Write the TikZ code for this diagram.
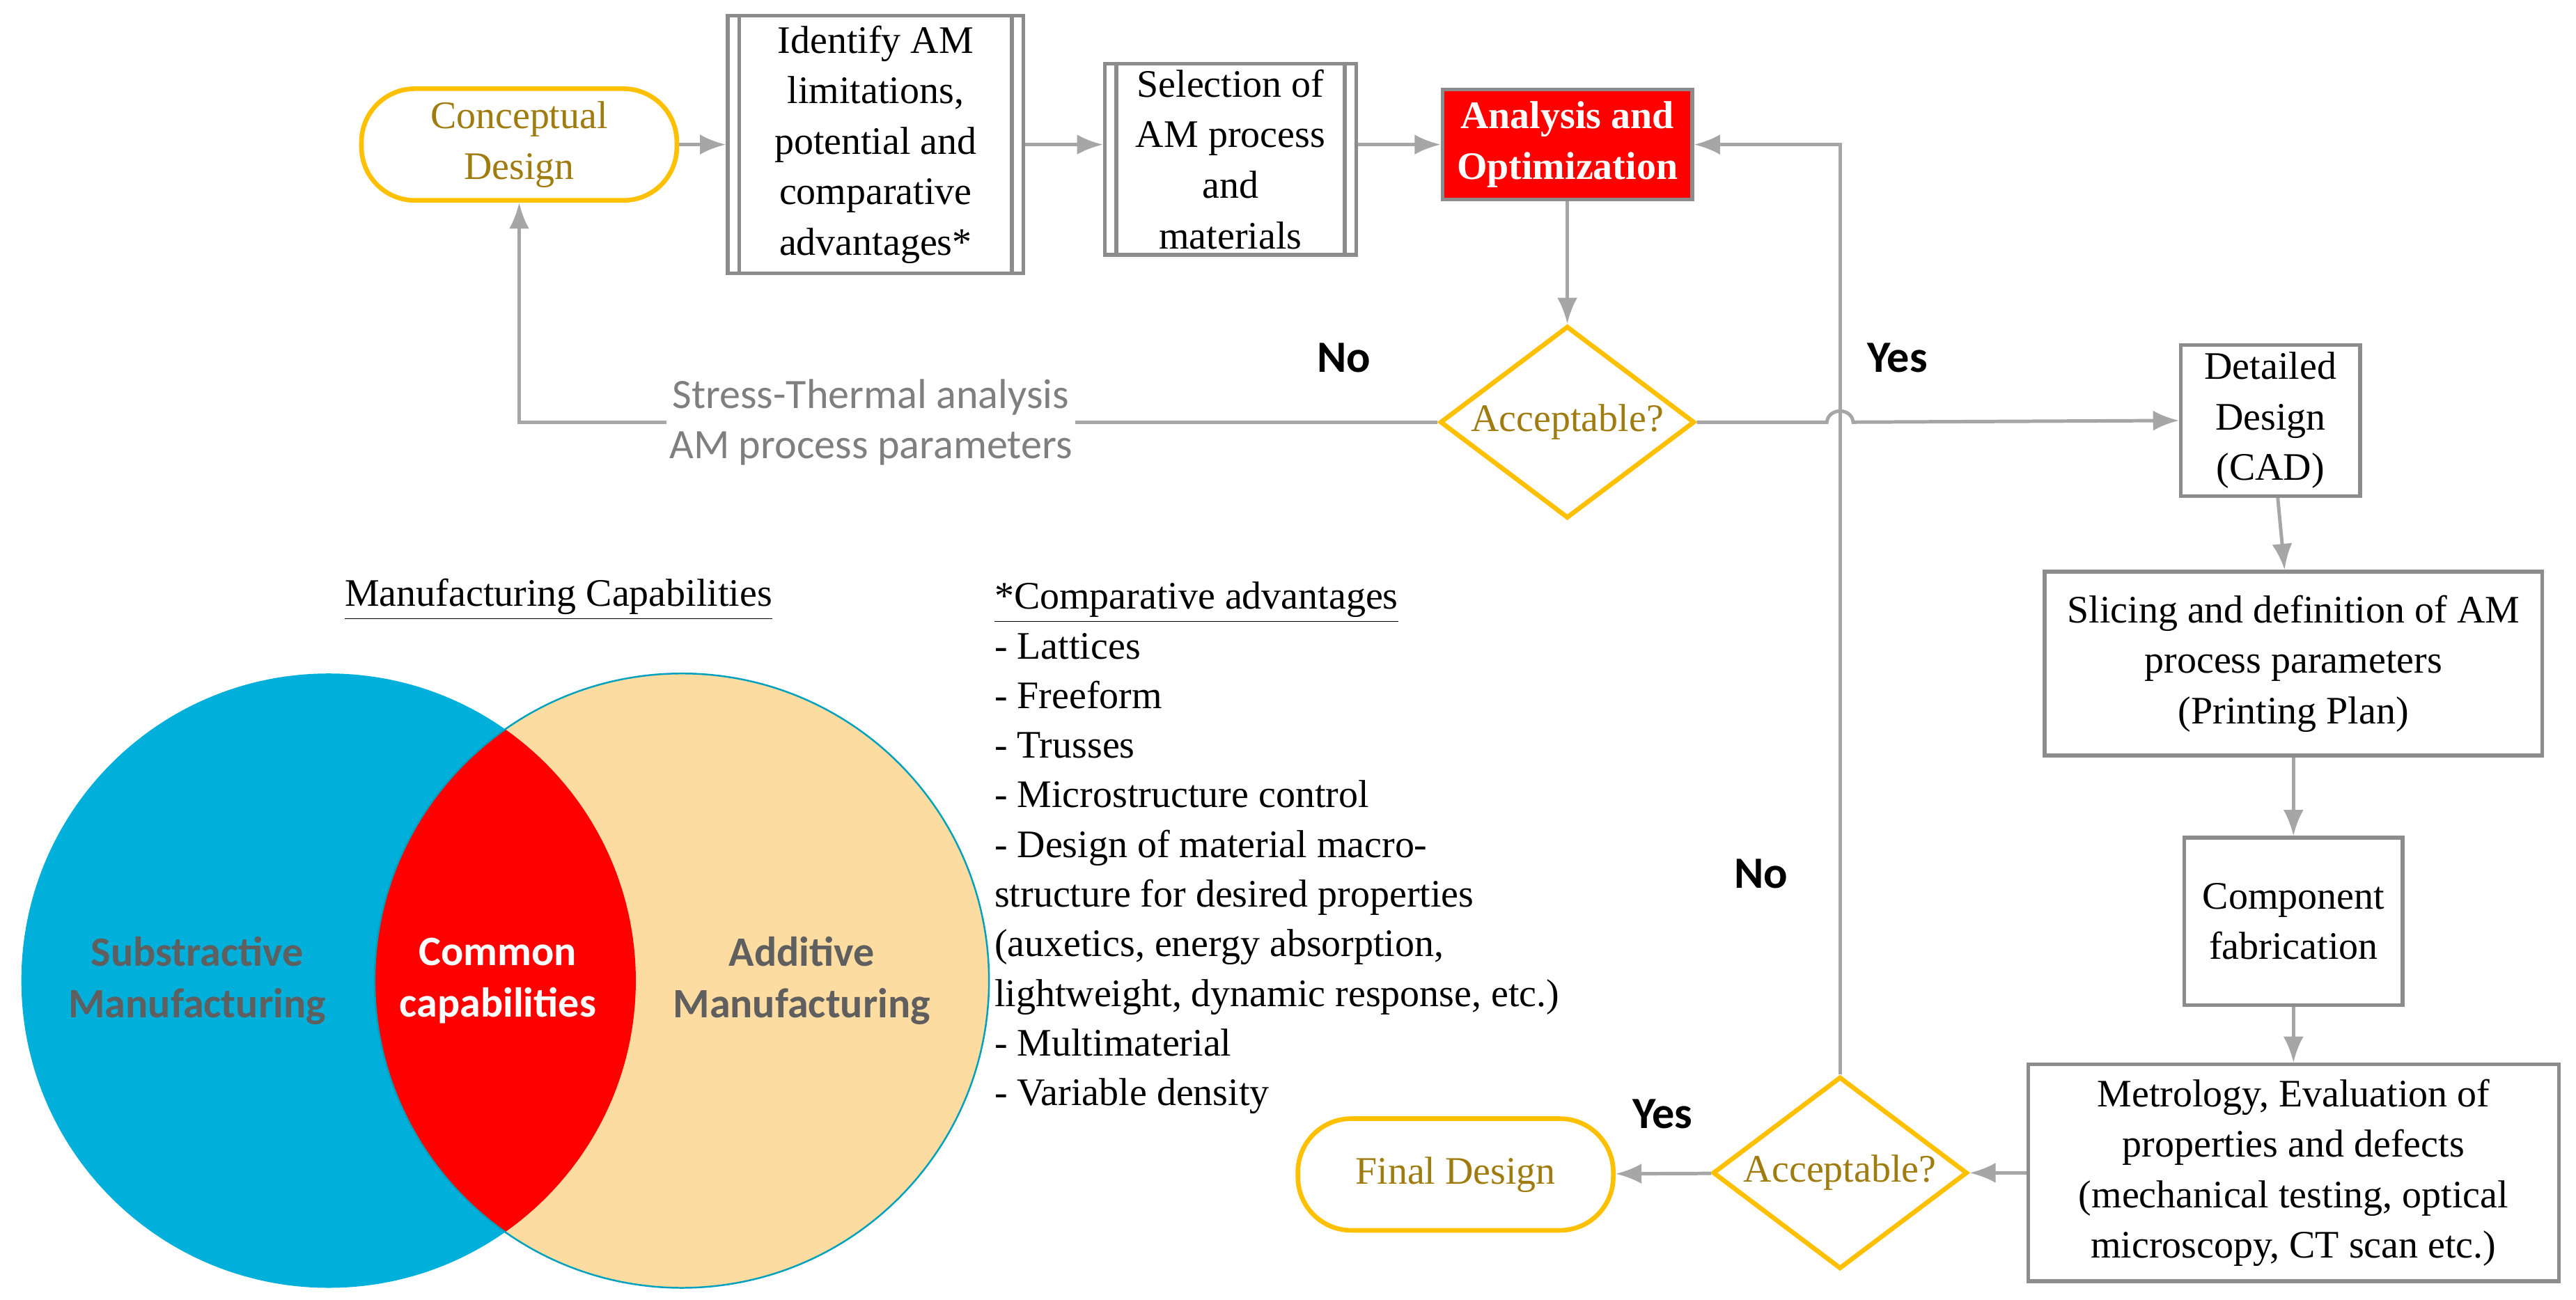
\documentclass[tikz,border=0pt]{standalone}
\usepackage{fontspec}
\setmainfont{Liberation Serif}
\newfontfamily\sansf{Carlito}
\usetikzlibrary{arrows.meta,shapes.geometric,positioning}
\definecolor{flowgray}{HTML}{A6A6A6}
\definecolor{boxgray}{HTML}{8C8C8C}
\definecolor{gold}{HTML}{FFC000}
\definecolor{goldtext}{HTML}{A07C10}
\definecolor{vennblue}{HTML}{00B0DA}
\definecolor{vennsand}{HTML}{FCDCA0}
\definecolor{venntext}{HTML}{5F5F5F}
\tikzset{
  flow/.style={draw=flowgray,line width=1.2pt,-{Latex[length=9pt,width=7pt]}},
  stage/.style={draw=boxgray,line width=1.3pt,fill=white,align=center,inner sep=2pt},
  twin/.style={stage,path picture={
    \draw[boxgray,line width=1.3pt] ([xshift=0.14cm]path picture bounding box.north west) -- ([xshift=0.14cm]path picture bounding box.south west);
    \draw[boxgray,line width=1.3pt] ([xshift=-0.14cm]path picture bounding box.north east) -- ([xshift=-0.14cm]path picture bounding box.south east);}},
  term/.style={draw=gold,line width=1.6pt,rounded corners=0.65cm,text=goldtext,align=center,minimum width=3.84cm,minimum height=1.36cm},
  check/.style={diamond,draw=gold,line width=1.6pt,fill=white,text=goldtext,aspect=1.32,minimum width=3.1cm,minimum height=2.34cm,inner sep=0pt},
  verdict/.style={font=\sansf\bfseries\fontsize{15.5}{18}\selectfont},
  vennlabel/.style={font=\sansf\bfseries\fontsize{14.5}{18}\selectfont,align=center},
}
\begin{document}
\begin{tikzpicture}[x=0.02cm,y=-0.02cm,font=\fontsize{13.5}{17.5}\selectfont]
\useasboundingbox (0,0) rectangle (1568,791);
% venn
\fill[vennblue] (200,597) circle (187);
\fill[vennsand] (415,597) circle (187);
\begin{scope}
\clip (200,597) circle (187);
\fill[red] (415,597) circle (187);
\end{scope}
\draw[vennblue!70!teal,line width=0.6pt] (415,597) circle (187);
\node[vennlabel,text=venntext] (subm) at (120,597) {Substractive\\Manufacturing};
\node[vennlabel,text=white] (comm) at (303,597) {Common\\capabilities};
\node[vennlabel,text=venntext] (addm) at (488,597) {Additive\\Manufacturing};
\node (capt) at (340,365) {\underline{Manufacturing Capabilities}};
\node[anchor=north west,align=left,inner sep=0pt,font=\fontsize{13.5}{17.2}\selectfont] (advs) at (605,354) {\underline{*Comparative advantages}\\- Lattices\\- Freeform\\- Trusses\\- Microstructure control\\- Design of material macro-\\structure for desired properties\\(auxetics, energy absorption,\\lightweight, dynamic response, etc.)\\- Multimaterial\\- Variable density};
% flow
\node[term] (concept) at (316,88) {Conceptual\\Design};
\node[twin,minimum width=3.6cm,minimum height=3.14cm] (limits) at (533,88) {Identify AM\\limitations,\\potential and\\comparative\\advantages*};
\node[twin,minimum width=3.06cm,minimum height=2.3cm] (select) at (749,97) {Selection of\\AM process\\and\\materials};
\node[stage,fill=red,draw=boxgray,text=white,font=\fontsize{13.5}{17.5}\selectfont\bfseries,minimum width=3.04cm,minimum height=1.34cm] (optim) at (954,88) {Analysis and\\Optimization};
\node[check] (accA) at (954,257) {Acceptable?};
\node[stage,minimum width=2.18cm,minimum height=1.84cm] (detail) at (1382,256) {Detailed\\Design\\(CAD)};
\node[stage,minimum width=6.06cm,minimum height=2.24cm] (slice) at (1396,404) {Slicing and definition of AM\\process parameters\\(Printing Plan)};
\node[stage,minimum width=2.66cm,minimum height=2.04cm] (fabr) at (1396,561) {Component\\fabrication};
\node[stage,minimum width=6.46cm,minimum height=2.64cm] (metro) at (1396,714) {Metrology, Evaluation of\\properties and defects\\(mechanical testing, optical\\microscopy, CT scan etc.)};
\node[check] (accB) at (1120,714) {Acceptable?};
\node[term] (final) at (886,715) {Final Design};
\node[verdict] (noA) at (818,218) {No};
\node[verdict] (yesA) at (1155,218) {Yes};
\node[verdict] (noB) at (1072,532) {No};
\node[verdict] (yesB) at (1012,678) {Yes};
\draw[flow] (concept) -- (limits);
\draw[flow] (limits.east) -- (select.west |- limits.east);
\draw[flow] (select.east |- optim.west) -- (optim.west);
\draw[flow] (optim) -- (accA);
\draw[flow] (accA.west) -- (316,257) -- (concept.south);
\node[fill=white,font=\sansf\fontsize{14.5}{17.5}\selectfont,text=venntext!80,align=center,inner sep=1pt] (stress) at (530,257) {Stress-Thermal analysis\\AM process parameters};
\draw[flow] (accA.east) -- (1112,257) .. controls (1113,248) and (1127,248) .. (1128,257) -- (detail.west);
\draw[flow] (accB.north) -- (1120,88) -- (optim.east);
\draw[flow] (detail) -- (slice);
\draw[flow] (slice) -- (fabr);
\draw[flow] (fabr) -- (metro);
\draw[flow] (metro) -- (accB);
\draw[flow] (accB) -- (final);
\end{tikzpicture}
\end{document}
